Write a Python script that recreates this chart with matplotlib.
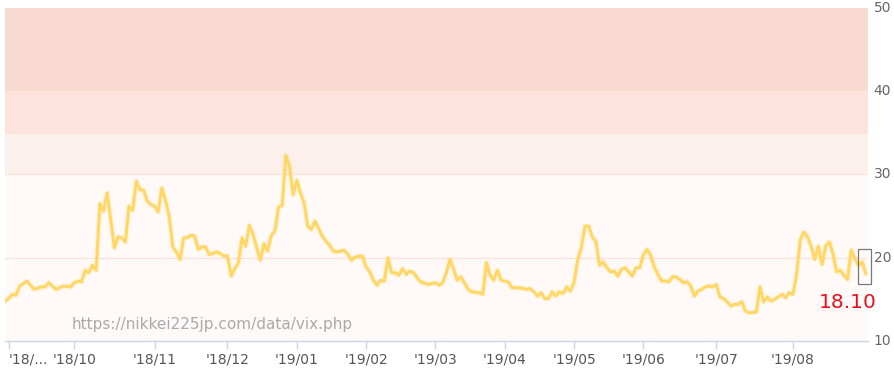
import matplotlib
matplotlib.use("Agg")
import matplotlib.pyplot as plt
from matplotlib.patches import Rectangle
import numpy as np

# Nikkei VI daily values (Aug 2018 - Aug 2019)
vix = [
    14.8, 15.1, 15.6, 15.5, 16.6, 16.9, 17.2, 16.7, 16.2, 16.35,
    16.5, 16.5, 17.0, 16.6, 16.2, 16.4, 16.6, 16.55, 16.5, 17.0,
    17.2, 17.1, 18.5, 18.2, 19.1, 18.5, 26.5, 25.6, 27.8, 24.5,
    21.2, 22.5, 22.4, 21.9, 26.2, 25.7, 29.2, 28.2, 28.1, 26.8,
    26.4, 26.2, 25.5, 28.4, 26.9, 25.0, 21.3, 20.7, 19.8, 22.4,
    22.4, 22.7, 22.6, 21.0, 21.3, 21.3, 20.4, 20.5, 20.7, 20.5,
    20.2, 20.2, 17.8, 18.7, 19.4, 22.4, 21.4, 23.9, 22.8, 21.2,
    19.7, 21.7, 20.8, 22.7, 23.2, 26.1, 26.3, 32.3, 31.0, 27.6,
    29.3, 27.8, 26.6, 23.8, 23.4, 24.4, 23.5, 22.6, 22.0, 21.5,
    20.8, 20.7, 20.8, 20.9, 20.4, 19.7, 20.1, 20.15, 20.2, 18.9,
    18.3, 17.3, 16.7, 17.3, 17.2, 20.0, 18.2, 18.2, 17.9, 18.7,
    18.0, 18.4, 18.2, 17.6, 17.1, 16.95, 16.8, 16.9, 17.0, 16.7,
    17.0, 18.2, 19.8, 18.6, 17.3, 17.7, 16.95, 16.2, 15.9, 15.85,
    15.8, 15.6, 19.4, 17.9, 17.3, 18.5, 17.3, 17.2, 17.1, 16.4,
    16.4, 16.4, 16.3, 16.2, 16.3, 15.9, 15.4, 15.8, 15.1, 15.1,
    15.9, 15.4, 15.9, 15.7, 16.5, 16.0, 17.0, 19.7, 21.2, 23.8,
    23.8, 22.5, 22.0, 19.1, 19.5, 18.8, 18.3, 18.4, 17.8, 18.6,
    18.8, 18.3, 17.8, 18.8, 18.8, 20.3, 21.0, 20.3, 18.9, 18.0,
    17.2, 17.2, 17.1, 17.7, 17.7, 17.4, 17.0, 17.1, 16.6, 15.4,
    16.0, 16.2, 16.5, 16.6, 16.5, 16.8, 15.3, 15.1, 14.7, 14.2,
    14.4, 14.4, 14.7, 13.6, 13.4, 13.4, 13.5, 16.5, 14.7, 15.3,
    14.8, 15.0, 15.3, 15.6, 15.2, 15.8, 15.6, 17.9, 22.1, 23.1,
    22.5, 21.4, 19.8, 21.4, 19.2, 21.4, 21.9, 20.5, 18.3, 18.5,
    17.9, 17.4, 20.9, 19.9, 19.1, 19.5, 18.1,
]

# month ticks (index of first trading day of each month) and labels
tick_idx = [1, 19, 41, 61, 80, 99, 118, 137, 156, 175, 195, 216]
tick_labels = ["'18/...", "'18/10", "'18/11", "'18/12", "'19/01", "'19/02",
               "'19/03", "'19/04", "'19/05", "'19/06", "'19/07", "'19/08"]

# background zones (lower, upper, colour)
band_low = [10, 30, 35, 40]
band_high = [30, 35, 40, 50]
band_colors = ["#fffaf8", "#fcf0ec", "#fde3dc", "#f9dad0"]
y_ticks = [10, 20, 30, 40, 50]

W, H = 895, 373
fig = plt.figure(figsize=(W / 100, H / 100), dpi=100)
fig.patch.set_facecolor("white")
ax = fig.add_axes([5 / W, (H - 341) / H, 863 / W, 333 / H])

for lo, hi, c in zip(band_low, band_high, band_colors):
    ax.axhspan(lo, hi, color=c, lw=0, zorder=0)
for yv in (20, 30, 35):
    ax.axhline(yv, color="#fbe2da", lw=0.9, zorder=1)

x = np.arange(len(vix))
ax.plot(x, vix, color="#ffd966", lw=3.8, alpha=0.25, zorder=2,
        solid_joinstyle="round")
ax.plot(x, vix, color="#ffd766", lw=2.1, zorder=3, solid_joinstyle="round")

ax.set_xlim(0, len(vix) - 0.4)
ax.set_ylim(10, 50)

# last value marker box and label
last_i = len(vix) - 1
last_v = vix[-1]
ax.add_patch(Rectangle((last_i - 2.2, last_v - 1.3), 3.6, 4.2, fill=False,
                       ec="#777777", lw=0.9, zorder=5, clip_on=False))
ax.annotate(f"{last_v:.2f}", xy=(last_i, last_v), xytext=(11, -29),
            textcoords="offset pixels", ha="right", va="center",
            color="#e8101e", fontsize=14.5, zorder=6)

# watermark
ax.text(67 / 863, 16 / 333, "https://nikkei225jp.com/data/vix.php",
        transform=ax.transAxes, color="#aaaaaa", fontsize=11,
        ha="left", va="center", zorder=4)

# axes styling
for s in ("top", "left", "right"):
    ax.spines[s].set_visible(False)
ax.spines["bottom"].set_color("#ccd6eb")
ax.spines["bottom"].set_linewidth(1)

ax.yaxis.tick_right()
ax.set_yticks(y_ticks)
ax.set_yticklabels([str(v) for v in y_ticks])
ax.tick_params(axis="y", length=0, pad=4, labelsize=10, labelcolor="#666666")

ax.set_xticks(tick_idx)
ax.set_xticklabels(tick_labels)
ax.tick_params(axis="x", length=6, width=1, color="#ccd6eb", pad=2,
               labelsize=10, labelcolor="#555555")
ax.get_xticklabels()[0].set_ha("left")
for lbl in ax.get_yticklabels():
    lbl.set_va("center")

fig.savefig("out.png", dpi=100, facecolor="white")
